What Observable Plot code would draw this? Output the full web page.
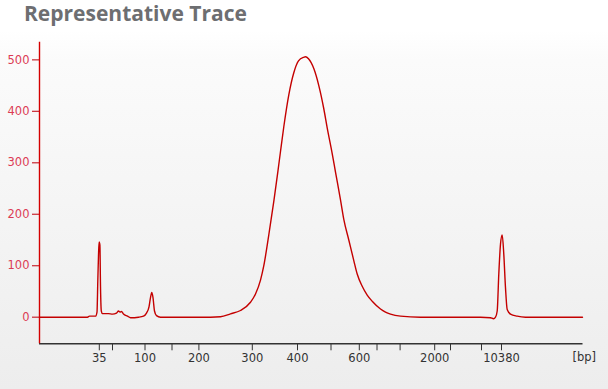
<!DOCTYPE html>
<html>
<head>
<meta charset="utf-8">
<script src="https://cdn.jsdelivr.net/npm/d3@7"></script>
<script src="https://cdn.jsdelivr.net/npm/@observablehq/plot@0.6"></script>
<style>
  html, body { margin: 0; padding: 0; }
  body {
    width: 608px; height: 389px; overflow: hidden;
    background: linear-gradient(to bottom, #ffffff 0px, #ffffff 30px, #fbfbfb 60px, #ededed 389px);
  }
  #title {
    height: 30px; box-sizing: border-box; padding-left: 24px; padding-top: 0px;
    font-family: "Open Sans", Roboto, sans-serif; font-weight: 700; font-size: 21px;
    color: #6d6e71; line-height: 26px; background: #ffffff;
  }
  #chart svg { display: block; }
</style>
</head>
<body>
<div id="title">Representative Trace</div>
<div id="chart"></div>
<script>
// Y axis ticks (fluorescence units)
const yTicks = [0, 100, 200, 300, 400, 500];

// Ladder sizes (bp) and their migration times (s)
const ladderBp   = [35, 50, 100, 150, 200, 300, 400, 500, 600, 700, 1000, 2000, 3000, 7000, 10380];
const ladderTime = [19.76, 22.4, 28.9, 34.3, 39.68, 50.36, 59.4, 66.1, 71.76, 75.3, 79.92, 86.84, 90.0, 96.2, 100.2];
const labeledBp  = [35, 100, 200, 300, 400, 600, 2000, 10380];

// Trace: migration time (s) and fluorescence
const traceTime = [7.8, 12, 17.4, 17.8, 19, 19.3, 19.46, 19.6, 19.72, 19.88, 20, 20.16, 20.4, 21.6, 22.4, 23.2, 23.6, 23.9, 24.2, 24.6, 25.4, 26, 27.6, 28.6, 29.2, 29.7, 30, 30.26, 30.5, 30.8, 31.2, 32, 40, 44, 46, 48, 50, 51, 52, 52.66, 53.66, 54.66, 55.46, 56, 56.66, 57.66, 58.66, 59.6, 60.66, 61, 61.6, 62.66, 63.66, 64.66, 65.34, 66.34, 67, 68, 68.66, 69.66, 70.66, 71.34, 72.34, 73.34, 74.34, 76, 77, 78, 80, 84, 96, 98, 98.6, 99, 99.34, 99.66, 100, 100.34, 100.66, 101, 101.34, 102, 103.34, 105, 116.4];
const traceFU   = [0, 0, 0, 2, 2, 10, 70, 120, 146, 140, 60, 12, 7, 7, 6, 8, 12, 10, 11, 6, 2, -1, 0, 2, 8, 20, 38, 48, 38, 12, 3, 0, 0, 1, 6.5, 13, 29, 45, 72, 100, 160, 225, 282, 322, 370, 432, 475, 498, 505, 506, 502, 483, 450, 405, 368, 318, 282, 228, 190, 150, 110, 84, 60, 43, 31, 16, 10, 6, 2, 0, 0, -1, -3, 0, 12, 84, 142, 160, 122, 57, 15, 6, 2, 0, 0];

const xDomain = [7.8, 116.5];
const yDomain = [-51.7, 534.3];
const unitLabel = "[bp]";

const trace = traceTime.map((t, i) => ({t, fu: traceFU[i]}));
const labelOf = new Map(ladderTime.map((t, i) => [t, labeledBp.includes(ladderBp[i]) ? String(ladderBp[i]) : ""]));

const axisFont = "'DejaVu Sans', Verdana, sans-serif";

const chart = Plot.plot({
  width: 608,
  height: 359,
  marginTop: 11.7,
  marginBottom: 45.7,
  marginLeft: 39,
  marginRight: 25.5,
  style: {background: "transparent", fontFamily: axisFont, fontSize: "11px", overflow: "visible"},
  x: {domain: xDomain, axis: null, label: null},
  y: {domain: yDomain, axis: null, label: null},
  marks: [
    Plot.axisY(yTicks, {tickSize: 7, tickPadding: 3, stroke: "#c8262f", fill: "#dc3c55", fontSize: 11.5, strokeWidth: 1.2, label: null}),
    Plot.axisX(ladderTime, {tickSize: 7, tickPadding: 3, stroke: "#333", fill: "#333", fontSize: 11.5, label: null, tickFormat: d => labelOf.get(d)}),
    Plot.ruleY([yDomain[0]], {stroke: "#333", strokeWidth: 1.4}),
    Plot.ruleX([xDomain[0]], {stroke: "#d40000", strokeWidth: 1.4}),
    Plot.line(trace, {x: "t", y: "fu", stroke: "#c40000", strokeWidth: 1.4, curve: "monotone-x"}),
    Plot.text([unitLabel], {frameAnchor: "bottom-right", text: d => d, dx: 13, dy: 17, textAnchor: "end", fill: "#333", fontSize: 11.5})
  ]
});
document.getElementById("chart").appendChild(chart);
</script>
</body>
</html>
